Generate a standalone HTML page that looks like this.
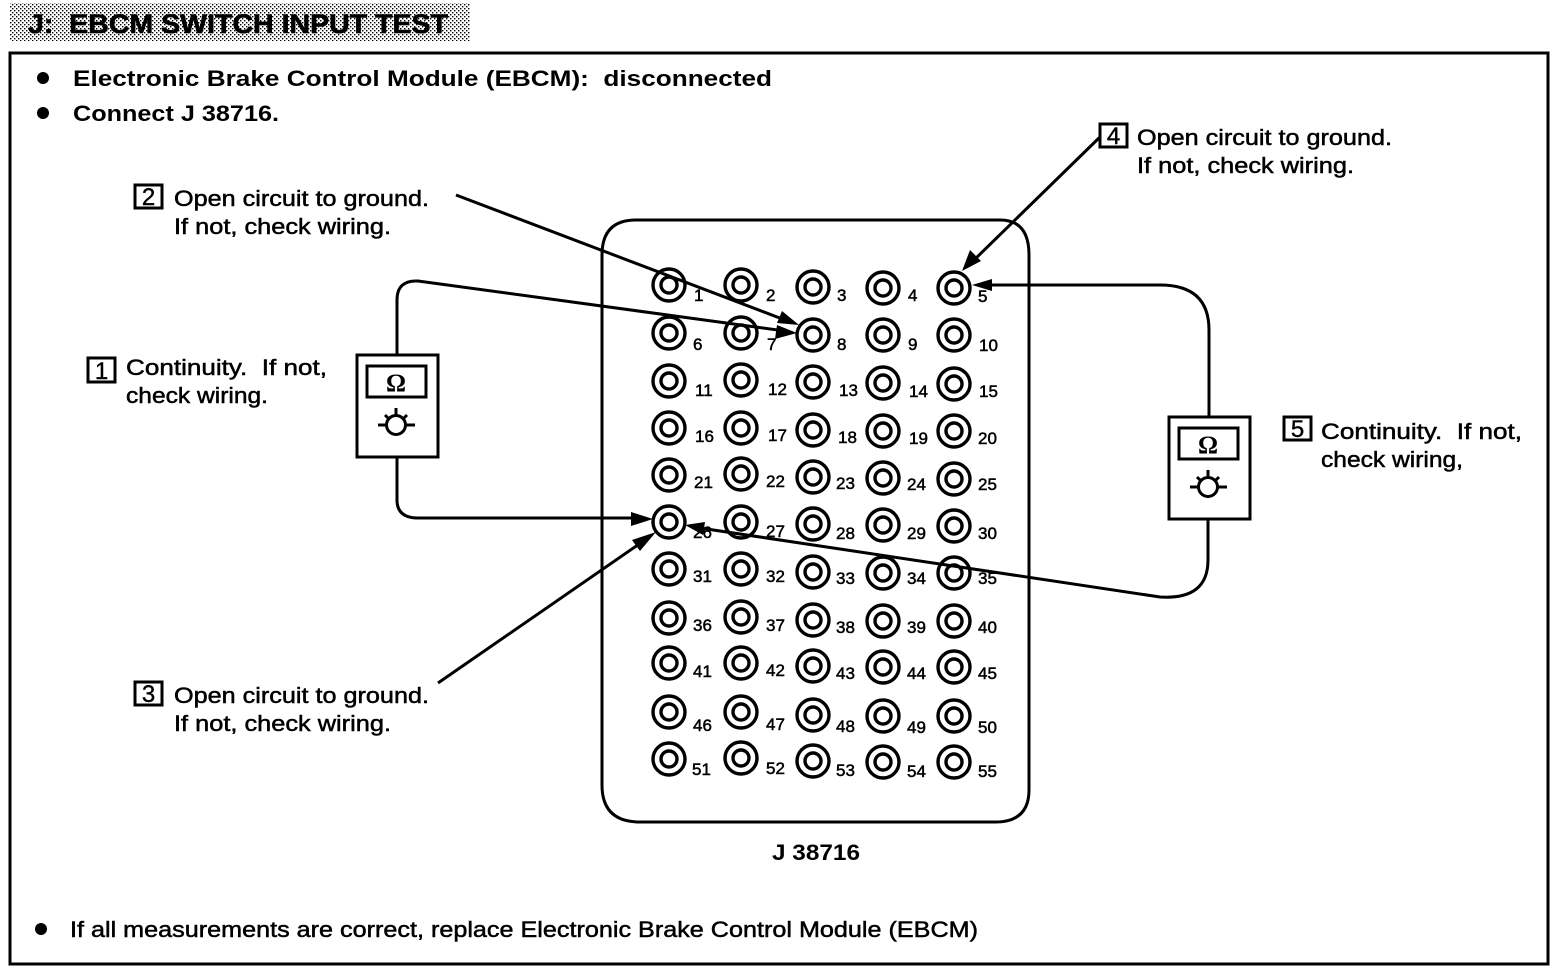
<!DOCTYPE html>
<html><head><meta charset="utf-8"><style>
html,body{margin:0;padding:0;background:#fff}
svg{display:block}
text{font-family:"Liberation Sans",sans-serif;fill:#000;white-space:pre}
.t{font-size:22px;stroke:#000;stroke-width:.5}
.b{font-size:22px;font-weight:bold}
.n{font-size:17px;stroke:#000;stroke-width:.5}
.k{font-size:24px;stroke:#000;stroke-width:.4}
.o{fill:none;stroke:#000;stroke-width:3.4}
.l{fill:none;stroke:#000;stroke-width:3}
</style></head><body>
<svg width="1568" height="976" viewBox="0 0 1568 976" xmlns="http://www.w3.org/2000/svg">
<defs>
<pattern id="d" width="4" height="4" patternUnits="userSpaceOnUse"><rect width="4" height="4" fill="#fff"/><rect width="1.4" height="1.4" fill="#000"/><rect x="2" y="2" width="1.4" height="1.4" fill="#000"/></pattern>
<g id="p"><circle r="16" class="o"/><circle r="8" class="o"/></g>
<g id="m"><rect x="0" y="0" width="81" height="102" fill="#fff" stroke="#000" stroke-width="3"/><rect x="10" y="11" width="59" height="31" fill="none" stroke="#000" stroke-width="3"/><text x="39" y="36" text-anchor="middle" font-size="25" font-weight="bold" style="font-family:'Liberation Serif',serif">Ω</text><circle cx="39" cy="70" r="9.5" fill="none" stroke="#000" stroke-width="3"/><path d="M39 53V60M28 60L31 63M50 60L47 63M21 70H29M49 70H58" stroke="#000" stroke-width="3" fill="none"/></g>
</defs>
<rect width="1568" height="976" fill="#fff"/>
<rect x="10" y="3" width="460" height="38" fill="url(#d)"/>
<text x="28" y="33" font-size="27" font-weight="bold" textLength="420" lengthAdjust="spacingAndGlyphs" stroke="#000" stroke-width=".6">J:  EBCM SWITCH INPUT TEST</text>
<rect x="10" y="53" width="1538" height="911" fill="none" stroke="#000" stroke-width="3"/>
<circle cx="43" cy="78" r="6"/><circle cx="43" cy="113" r="6"/><circle cx="41" cy="929" r="6"/>
<text class="b" x="73" y="86" textLength="699" lengthAdjust="spacingAndGlyphs">Electronic Brake Control Module (EBCM):  disconnected</text>
<text class="b" x="73" y="121" textLength="206" lengthAdjust="spacingAndGlyphs">Connect J 38716.</text>
<text class="t" x="70" y="937" textLength="908" lengthAdjust="spacingAndGlyphs">If all measurements are correct, replace Electronic Brake Control Module (EBCM)</text>
<text class="b" x="772" y="860" textLength="88" lengthAdjust="spacingAndGlyphs">J 38716</text>

<rect x="88" y="358" width="27" height="24" fill="none" stroke="#000" stroke-width="3"/><text class="k" x="101.500" y="379" text-anchor="middle">1</text>
<text class="t" x="126" y="375" textLength="201" lengthAdjust="spacingAndGlyphs">Continuity.  If not,</text>
<text class="t" x="126" y="403" textLength="142" lengthAdjust="spacingAndGlyphs">check wiring.</text>

<rect x="135" y="185" width="27" height="23" fill="none" stroke="#000" stroke-width="3"/><text class="k" x="148.500" y="205" text-anchor="middle">2</text>
<text class="t" x="174" y="206" textLength="255" lengthAdjust="spacingAndGlyphs">Open circuit to ground.</text>
<text class="t" x="174" y="234" textLength="217" lengthAdjust="spacingAndGlyphs">If not, check wiring.</text>

<rect x="135" y="682" width="27" height="23" fill="none" stroke="#000" stroke-width="3"/><text class="k" x="148.500" y="702" text-anchor="middle">3</text>
<text class="t" x="174" y="703" textLength="255" lengthAdjust="spacingAndGlyphs">Open circuit to ground.</text>
<text class="t" x="174" y="731" textLength="217" lengthAdjust="spacingAndGlyphs">If not, check wiring.</text>

<rect x="1100" y="124" width="27" height="23" fill="none" stroke="#000" stroke-width="3"/><text class="k" x="1113.500" y="144" text-anchor="middle">4</text>
<text class="t" x="1137" y="145" textLength="255" lengthAdjust="spacingAndGlyphs">Open circuit to ground.</text>
<text class="t" x="1137" y="173" textLength="217" lengthAdjust="spacingAndGlyphs">If not, check wiring.</text>

<rect x="1284" y="417" width="27" height="23" fill="none" stroke="#000" stroke-width="3"/><text class="k" x="1297.500" y="437" text-anchor="middle">5</text>
<text class="t" x="1321" y="439" textLength="201" lengthAdjust="spacingAndGlyphs">Continuity.  If not,</text>
<text class="t" x="1321" y="467" textLength="142" lengthAdjust="spacingAndGlyphs">check wiring,</text>

<path class="l" d="M636 220H1000Q1029 220 1029 255V790Q1029 822 995 822H640Q602 822 602 785V255Q602 220 636 220Z"/>

<g id="pins">
<use href="#p" x="669" y="285"/><use href="#p" x="741" y="285"/><use href="#p" x="813" y="287"/><use href="#p" x="883" y="288"/><use href="#p" x="954" y="288"/>
<use href="#p" x="669" y="333"/><use href="#p" x="741" y="333"/><use href="#p" x="813" y="335"/><use href="#p" x="883" y="335"/><use href="#p" x="954" y="335"/>
<use href="#p" x="669" y="381"/><use href="#p" x="741" y="380"/><use href="#p" x="813" y="382"/><use href="#p" x="883" y="383"/><use href="#p" x="954" y="384"/>
<use href="#p" x="669" y="428"/><use href="#p" x="741" y="428"/><use href="#p" x="813" y="430"/><use href="#p" x="883" y="431"/><use href="#p" x="954" y="431"/>
<use href="#p" x="669" y="475"/><use href="#p" x="741" y="474"/><use href="#p" x="813" y="477"/><use href="#p" x="883" y="478"/><use href="#p" x="954" y="479"/>
<use href="#p" x="669" y="522"/><use href="#p" x="741" y="522"/><use href="#p" x="813" y="524"/><use href="#p" x="883" y="525"/><use href="#p" x="954" y="526"/>
<use href="#p" x="669" y="569"/><use href="#p" x="741" y="569"/><use href="#p" x="813" y="572"/><use href="#p" x="883" y="573"/><use href="#p" x="954" y="573"/>
<use href="#p" x="669" y="618"/><use href="#p" x="741" y="617"/><use href="#p" x="813" y="620"/><use href="#p" x="883" y="621"/><use href="#p" x="954" y="621"/>
<use href="#p" x="669" y="663"/><use href="#p" x="741" y="663"/><use href="#p" x="813" y="666"/><use href="#p" x="883" y="667"/><use href="#p" x="954" y="667"/>
<use href="#p" x="669" y="712"/><use href="#p" x="741" y="712"/><use href="#p" x="813" y="715"/><use href="#p" x="883" y="716"/><use href="#p" x="954" y="716"/>
<use href="#p" x="669" y="759"/><use href="#p" x="741" y="758"/><use href="#p" x="813" y="761"/><use href="#p" x="883" y="762"/><use href="#p" x="954" y="762"/>
</g>
<g>
<text class="n" x="694" y="301">1</text><text class="n" x="766" y="301">2</text><text class="n" x="837" y="301">3</text><text class="n" x="908" y="301">4</text><text class="n" x="978" y="302">5</text>
<text class="n" x="693" y="350">6</text><text class="n" x="767" y="350">7</text><text class="n" x="837" y="350">8</text><text class="n" x="908" y="350">9</text><text class="n" x="979" y="351">10</text>
<text class="n" x="695" y="396">11</text><text class="n" x="768" y="395">12</text><text class="n" x="839" y="396">13</text><text class="n" x="909" y="397">14</text><text class="n" x="979" y="397">15</text>
<text class="n" x="695" y="442">16</text><text class="n" x="768" y="441">17</text><text class="n" x="838" y="443">18</text><text class="n" x="909" y="444">19</text><text class="n" x="978" y="444">20</text>
<text class="n" x="694" y="488">21</text><text class="n" x="766" y="487">22</text><text class="n" x="836" y="489">23</text><text class="n" x="907" y="490">24</text><text class="n" x="978" y="490">25</text>
<text class="n" x="693" y="538">26</text><text class="n" x="766" y="537">27</text><text class="n" x="836" y="539">28</text><text class="n" x="907" y="539">29</text><text class="n" x="978" y="539">30</text>
<text class="n" x="693" y="582">31</text><text class="n" x="766" y="582">32</text><text class="n" x="836" y="584">33</text><text class="n" x="907" y="584">34</text><text class="n" x="978" y="584">35</text>
<text class="n" x="693" y="631">36</text><text class="n" x="766" y="631">37</text><text class="n" x="836" y="633">38</text><text class="n" x="907" y="633">39</text><text class="n" x="978" y="633">40</text>
<text class="n" x="693" y="677">41</text><text class="n" x="766" y="676">42</text><text class="n" x="836" y="679">43</text><text class="n" x="907" y="679">44</text><text class="n" x="978" y="679">45</text>
<text class="n" x="693" y="731">46</text><text class="n" x="766" y="730">47</text><text class="n" x="836" y="732">48</text><text class="n" x="907" y="733">49</text><text class="n" x="978" y="733">50</text>
<text class="n" x="692" y="775">51</text><text class="n" x="766" y="774">52</text><text class="n" x="836" y="776">53</text><text class="n" x="907" y="777">54</text><text class="n" x="978" y="777">55</text>
</g>

<path class="l" d="M397 355V300Q397 280 418 281L785 331"/>
<path class="l" d="M397 458V500Q397 518 418 518H640"/>
<path class="l" d="M456 195L785 320"/>
<path class="l" d="M438 683L645 540"/>
<path class="l" d="M1100 137L972 262"/>
<path class="l" d="M1209 416V330Q1209 285 1160 285H990"/>
<path class="l" d="M1208 520V560Q1208 600 1160 597L700 528"/>
<path d="M797 333L775 339L777 325Z"/><path d="M799 325L777 323L782 311Z"/>
<path d="M653 519L631 526V512Z"/><path d="M656 532L640 551L632 540Z"/>
<path d="M962 271L970 250L981 261Z"/><path d="M972 285L992 279V291Z"/>
<path d="M685 525L705 522L703 535Z"/>
<use href="#m" x="357" y="355"/>
<use href="#m" x="1169" y="417"/>
</svg>
</body></html>
